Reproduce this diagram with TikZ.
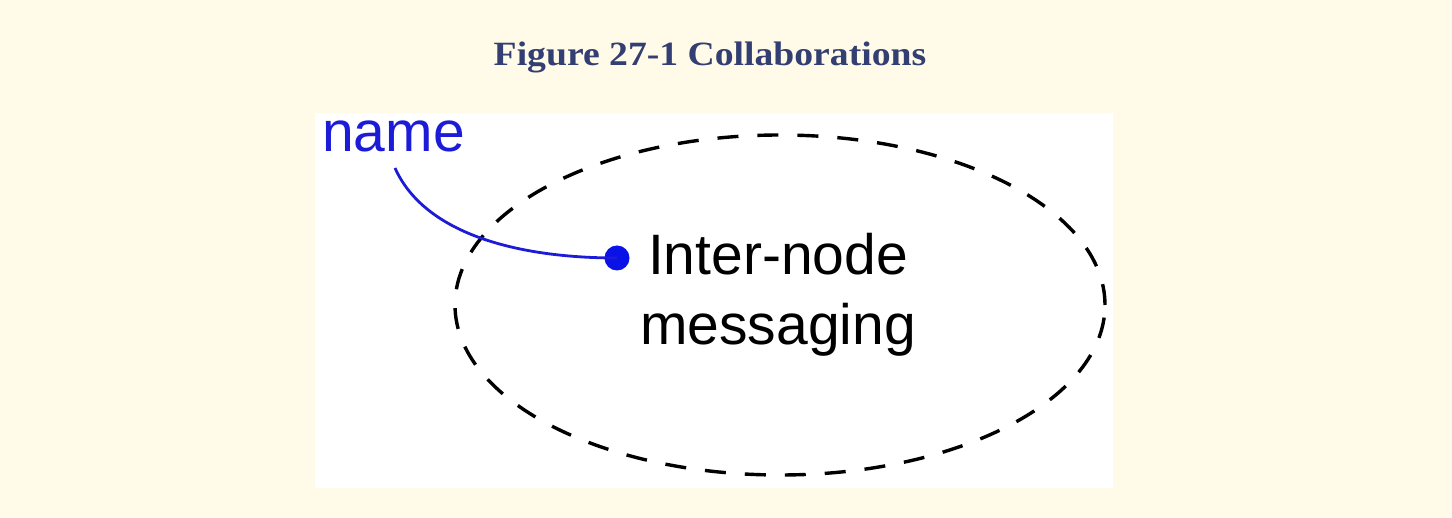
\documentclass[tikz,border=0pt]{standalone}
\usepackage{fontspec}
\setmainfont{Liberation Serif}
\setsansfont{Liberation Sans}
\usetikzlibrary{shapes.geometric}
\definecolor{bgcream}{HTML}{FFFBE8}
\definecolor{titleblue}{HTML}{333F72}
\definecolor{nameblue}{HTML}{1C1CD8}
\definecolor{dotblue}{HTML}{0A12E8}
\tikzset{
  titletext/.style={font=\fontsize{34}{40}\selectfont\bfseries, text=titleblue, inner sep=0},
  bluelabel/.style={font=\sffamily\fontsize{57}{68}\selectfont, text=nameblue, inner sep=0},
  msgtext/.style={font=\sffamily\fontsize{57}{70}\selectfont, text=black, inner sep=0, align=center},
  collab/.style={ellipse, draw=black, line width=3.4pt, dash pattern=on 21pt off 19pt, minimum width=650pt, minimum height=340pt, inner sep=0},
  rolelink/.style={draw=nameblue, line width=2.8pt},
  roledot/.style={circle, fill=dotblue, minimum size=25pt, inner sep=0}
}
\begin{document}
\begin{tikzpicture}[x=1pt,y=-1pt]
\fill[bgcream] (0,0) rectangle (1452,518);
\useasboundingbox (0,0) rectangle (1452,518);
\fill[white] (315,113) rectangle (1113,488);
\node[titletext] (title) at (710,57) {\scalebox{1.108}[1]{Figure 27-1 Collaborations}};
\node[collab] (coll) at (780,305) {};
\node[bluelabel, anchor=base west] (name) at (322,152) {name};
\node[msgtext, anchor=north] (msg) at (778,233) {Inter-node\\messaging};
\node[roledot] (dot) at (617,258) {};
\coordinate (nstart) at (395,168);
\draw[rolelink] (nstart) .. controls (425,235) and (520,258) .. (dot.center);
\end{tikzpicture}
\end{document}
